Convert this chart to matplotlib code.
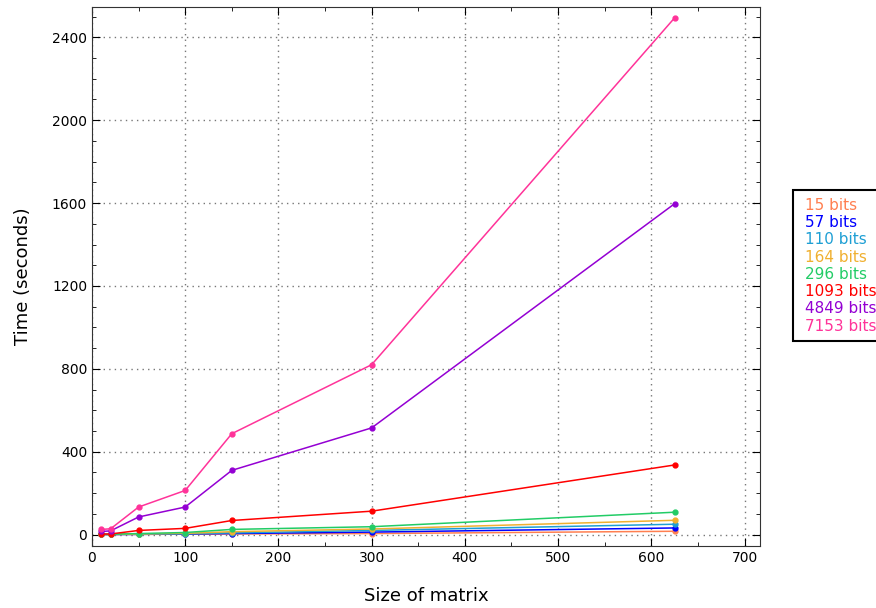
import numpy as np
import matplotlib
matplotlib.use('Agg')
import matplotlib.pyplot as plt
from matplotlib.ticker import MultipleLocator

# matrix sizes
sizes = [10, 20, 50, 100, 150, 300, 625]

labels = ['15 bits', '57 bits', '110 bits', '164 bits',
          '296 bits', '1093 bits', '4849 bits', '7153 bits']
colors = ['#ff7f50', '#0000ff', '#1e9fd4', '#f0b030',
          '#22cc66', '#ff0000', '#9400d3', '#ff3399']

# timings (seconds)
t15 = [0.5, 0.5, 1, 2, 3, 5, 16]
t57 = [0.5, 0.5, 1, 3, 5, 12, 32]
t110 = [0.5, 1, 2, 4, 8, 20, 50]
t164 = [1, 1, 3, 6, 14, 27, 69]
t296 = [1, 1, 5, 10, 25, 38, 108]
t1093 = [2, 3, 20, 30, 68, 113, 336]
t4849 = [15, 18, 85, 133, 310, 515, 1597]
t7153 = [25, 28, 133, 213, 487, 820, 2494]

series = [t15, t57, t110, t164, t296, t1093, t4849, t7153]

fig = plt.figure(figsize=(8.76, 6.08), dpi=100)
ax = fig.add_axes([0.105, 0.102, 0.763, 0.886])

for vals, lab, col in zip(series, labels, colors):
    ax.plot(sizes, vals, '-o', color=col, lw=1.1, ms=3.5, label=lab)

ax.set_xlim(0, 717)
ax.set_ylim(-55, 2545)
ax.xaxis.set_major_locator(MultipleLocator(100))
ax.xaxis.set_minor_locator(MultipleLocator(50))
ax.yaxis.set_major_locator(MultipleLocator(400))
ax.yaxis.set_minor_locator(MultipleLocator(100))
ax.tick_params(which='both', direction='in', top=True, right=True, labelsize=10)
ax.tick_params(which='major', length=6)
ax.tick_params(which='minor', length=3)
ax.grid(True, which='major', linestyle=(0, (1, 3)), color='#777777', lw=1.0)
for sp in ax.spines.values():
    sp.set_color('#333333')

ax.set_xlabel('Size of matrix', fontsize=13, labelpad=16)
ax.set_ylabel('Time (seconds)', fontsize=13, labelpad=14)

leg = ax.legend(loc='upper left', bbox_to_anchor=(0.905, 0.6875),
                bbox_transform=fig.transFigure, handlelength=0,
                handletextpad=0.3, markerscale=0, fontsize=11,
                fancybox=False, framealpha=1, borderpad=0.5,
                borderaxespad=0, labelspacing=0.15)
leg.get_frame().set_edgecolor('black')
leg.get_frame().set_linewidth(1.5)
for h in leg.legend_handles:
    h.set_visible(False)
for txt, col in zip(leg.get_texts(), colors):
    txt.set_color(col)

fig.savefig('out.png', dpi=100)
